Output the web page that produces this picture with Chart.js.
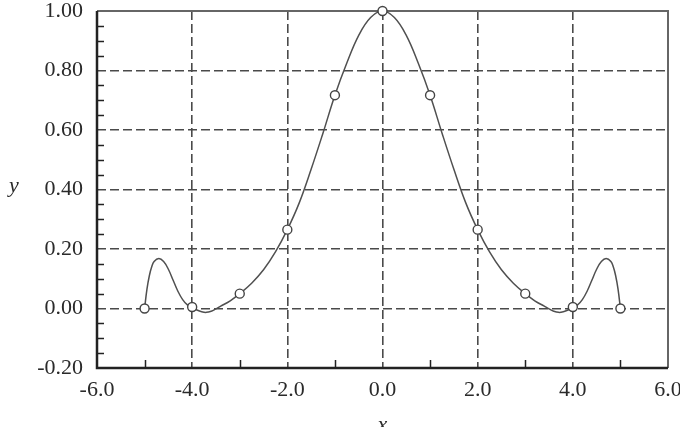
<!DOCTYPE html>
<html>
<head>
<meta charset="utf-8">
<script src="https://cdn.jsdelivr.net/npm/chart.js@4/dist/chart.umd.min.js"></script>
<style>
  html, body { margin: 0; padding: 0; background: #fff; }
  #wrap { width: 680px; height: 427px; }
</style>
</head>
<body>
<div id="wrap"><canvas id="chart"></canvas></div>
<script>
// node points (circles)
const nodeX = [-5, -4, -3, -2, -1, 0, 1, 2, 3, 4, 5];
const nodeY = [0.0, 0.005, 0.05, 0.265, 0.717, 1.0, 0.717, 0.265, 0.05, 0.005, 0.0];

// interpolating curve
const curveX = [-5.0, -4.95, -4.9, -4.85, -4.8, -4.7, -4.6, -4.5, -4.4, -4.3, -4.2, -4.1, -4.0, -3.9, -3.8, -3.7, -3.6, -3.5, -3.4, -3.2, -3.0,
  -2.75, -2.5, -2.25, -2.0, -1.75, -1.5, -1.25, -1.0, -0.75, -0.5, -0.25, 0.0,
  0.25, 0.5, 0.75, 1.0, 1.25, 1.5, 1.75, 2.0, 2.25, 2.5, 2.75,
  3.0, 3.2, 3.4, 3.5, 3.6, 3.7, 3.8, 3.9, 4.0, 4.1, 4.2, 4.3, 4.4, 4.5, 4.6, 4.7, 4.8, 4.85, 4.9, 4.95, 5.0];
const curveY = [0.0, 0.065, 0.11, 0.14, 0.158, 0.168, 0.158, 0.132, 0.095, 0.058, 0.03, 0.012, 0.004, -0.005, -0.011, -0.013, -0.009, -0.001, 0.008, 0.026, 0.05,
  0.085, 0.13, 0.19, 0.265, 0.355, 0.468, 0.59, 0.717, 0.825, 0.918, 0.978, 1.0,
  0.978, 0.918, 0.825, 0.717, 0.59, 0.468, 0.355, 0.265, 0.19, 0.13, 0.085,
  0.05, 0.026, 0.008, -0.001, -0.009, -0.013, -0.011, -0.005, 0.004, 0.012, 0.03, 0.058, 0.095, 0.132, 0.158, 0.168, 0.158, 0.14, 0.11, 0.065, 0.0];

const xMin = -6, xMax = 6, xStep = 2;
const yMin = -0.2, yMax = 1.0, yStep = 0.2;
const xMinorTicks = [-5, -3, -1, 1, 3, 5];
const yMinorTicks = [-0.15, -0.1, -0.05, 0.05, 0.1, 0.15, 0.25, 0.3, 0.35, 0.45, 0.5, 0.55, 0.65, 0.7, 0.75, 0.85, 0.9, 0.95];

const serif = "'Liberation Serif', 'Times New Roman', Times, serif";
const ink = '#2a2a2a';
const gridColor = '#4a4a4a';

const framePlugin = {
  id: 'frame',
  beforeDatasetsDraw(chart) {
    const { ctx, chartArea: a, scales: { x, y } } = chart;
    ctx.save();
    // minor ticks, pointing inward
    ctx.strokeStyle = '#222';
    ctx.lineWidth = 1.5;
    ctx.beginPath();
    yMinorTicks.forEach(v => {
      const py = Math.round(y.getPixelForValue(v)) + 0.5;
      ctx.moveTo(a.left, py); ctx.lineTo(a.left + 7, py);
    });
    xMinorTicks.forEach(v => {
      const px = Math.round(x.getPixelForValue(v)) + 0.5;
      ctx.moveTo(px, a.bottom); ctx.lineTo(px, a.bottom - 8);
    });
    ctx.stroke();
    // top and right of the frame
    ctx.strokeStyle = '#666';
    ctx.lineWidth = 2;
    ctx.beginPath();
    ctx.moveTo(a.left, a.top); ctx.lineTo(a.right, a.top); ctx.lineTo(a.right, a.bottom);
    ctx.stroke();
    // left and bottom
    ctx.strokeStyle = '#222';
    ctx.lineWidth = 2.5;
    ctx.beginPath();
    ctx.moveTo(a.left, a.top); ctx.lineTo(a.left, a.bottom); ctx.lineTo(a.right, a.bottom);
    ctx.stroke();
    ctx.restore();
  },
  afterDraw(chart) {
    const { ctx, chartArea: a } = chart;
    ctx.save();
    ctx.fillStyle = ink;
    ctx.font = 'italic 22px ' + serif;
    ctx.textAlign = 'center';
    ctx.textBaseline = 'middle';
    ctx.fillText('y', 14, 186);
    ctx.fillText('x', (a.left + a.right) / 2, 425);
    ctx.restore();
  }
};

const fmt = (v, d) => (Math.abs(v) < 1e-9 ? 0 : v).toFixed(d);

new Chart(document.getElementById('chart'), {
  type: 'scatter',
  data: {
    datasets: [
      {
        label: 'curve',
        data: curveX.map((v, i) => ({ x: v, y: curveY[i] })),
        showLine: true,
        borderColor: '#505050',
        borderWidth: 1.5,
        pointRadius: 0,
        tension: 0.4,
        order: 2
      },
      {
        label: 'nodes',
        data: nodeX.map((v, i) => ({ x: v, y: nodeY[i] })),
        showLine: false,
        pointRadius: 4.5,
        pointBackgroundColor: '#fff',
        pointBorderColor: '#444',
        pointBorderWidth: 1.4,
        clip: false,
        order: 1
      }
    ]
  },
  options: {
    responsive: true,
    maintainAspectRatio: false,
    animation: false,
    layout: { padding: { top: 11, right: 12, left: 0, bottom: 0 } },
    plugins: { legend: { display: false }, tooltip: { enabled: false } },
    scales: {
      x: {
        type: 'linear',
        min: xMin, max: xMax,
        afterFit: s => { s.height = 59; s.paddingLeft = 0; s.paddingRight = 0; },
        ticks: {
          stepSize: xStep,
          padding: 9,
          color: ink,
          font: { family: serif, size: 22 },
          callback: v => fmt(v, 1)
        },
        grid: {
          drawTicks: false,
          lineWidth: 1.6,
          color: c => (c.tick && (c.tick.value <= xMin + 0.01 || c.tick.value >= xMax - 0.01)) ? 'transparent' : gridColor
        },
        border: { display: false, dash: [9, 4] }
      },
      y: {
        type: 'linear',
        min: yMin, max: yMax,
        afterFit: s => { s.width = 97; s.paddingTop = 0; s.paddingBottom = 0; },
        ticks: {
          stepSize: yStep,
          padding: 14,
          color: ink,
          font: { family: serif, size: 22 },
          callback: v => fmt(v, 2)
        },
        grid: {
          drawTicks: false,
          lineWidth: 1.6,
          color: c => (c.tick && (c.tick.value <= yMin + 0.01 || c.tick.value >= yMax - 0.01)) ? 'transparent' : gridColor
        },
        border: { display: false, dash: [9, 4] }
      }
    }
  },
  plugins: [framePlugin]
});
</script>
</body>
</html>
